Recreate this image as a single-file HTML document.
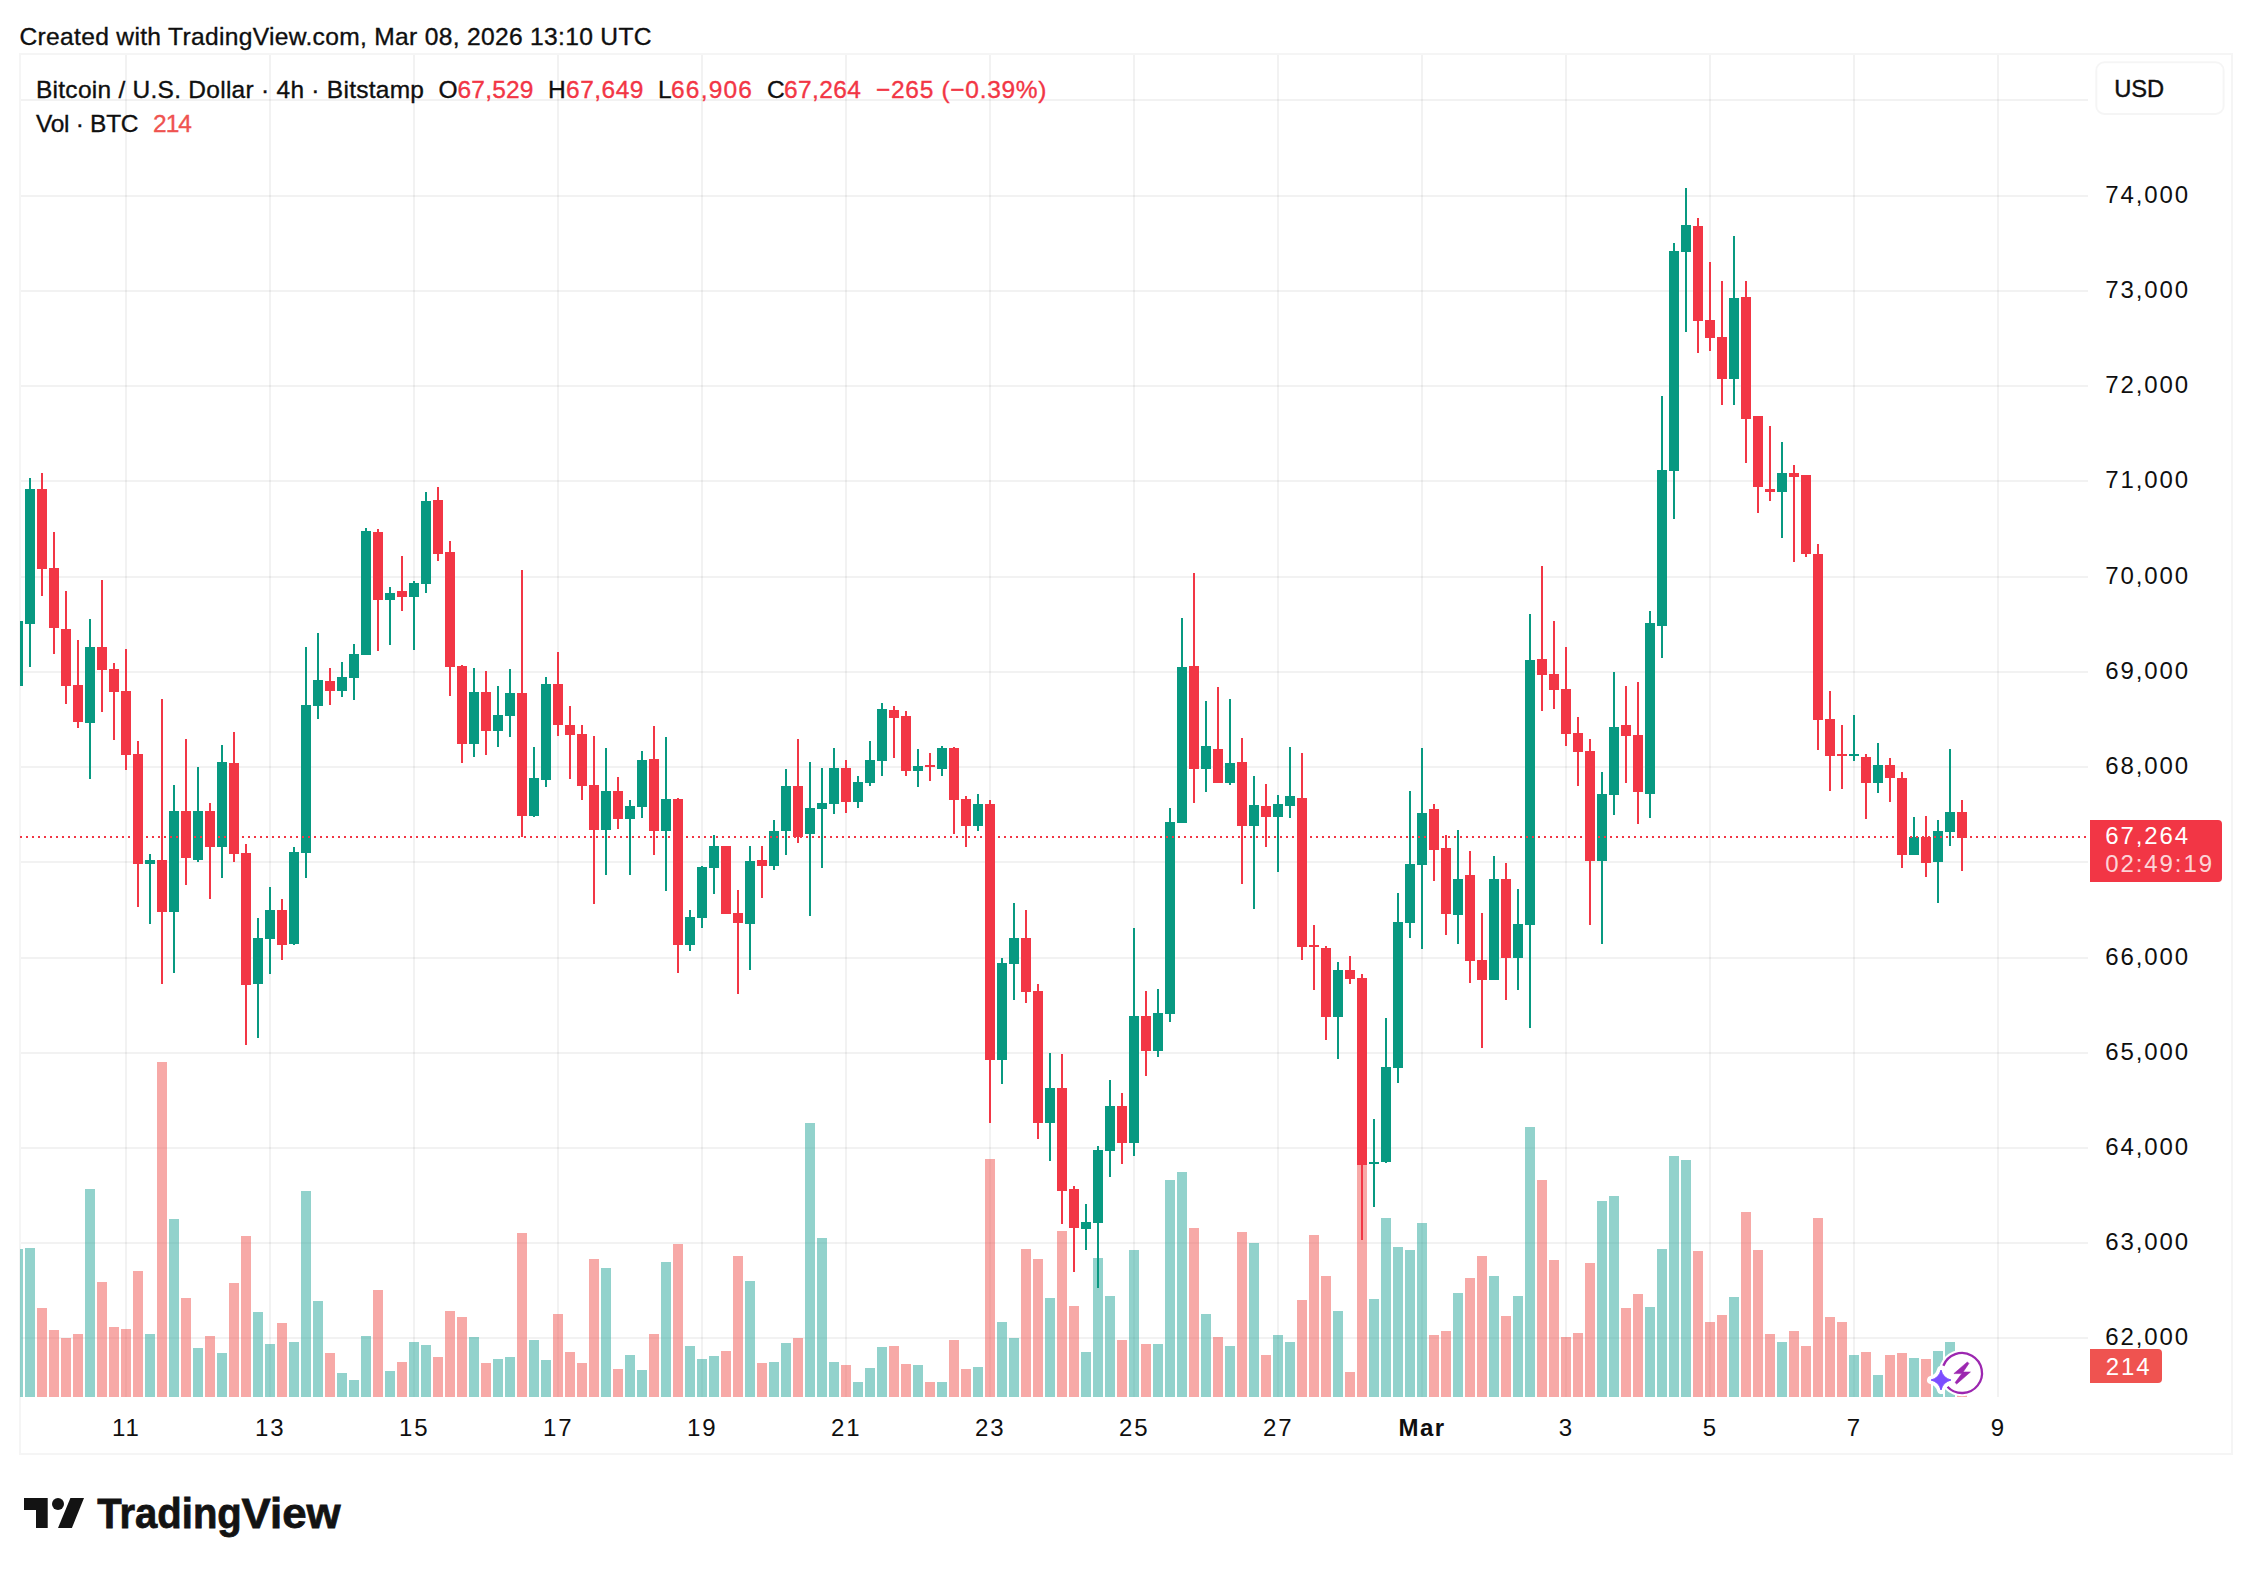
<!DOCTYPE html><html><head><meta charset="utf-8"><title>BTCUSD chart</title>
<style>html,body{margin:0;padding:0;background:#fff}svg{display:block}text{font-family:"Liberation Sans", Arial, sans-serif}</style></head><body>
<svg width="2252" height="1574" viewBox="0 0 2252 1574">
<rect width="2252" height="1574" fill="#fff"/>
<g fill="rgba(0,0,0,0.05)">
<rect x="125" y="55" width="2" height="1342"/>
<rect x="269" y="55" width="2" height="1342"/>
<rect x="413" y="55" width="2" height="1342"/>
<rect x="557" y="55" width="2" height="1342"/>
<rect x="701" y="55" width="2" height="1342"/>
<rect x="845" y="55" width="2" height="1342"/>
<rect x="989" y="55" width="2" height="1342"/>
<rect x="1133" y="55" width="2" height="1342"/>
<rect x="1277" y="55" width="2" height="1342"/>
<rect x="1421" y="55" width="2" height="1342"/>
<rect x="1565" y="55" width="2" height="1342"/>
<rect x="1709" y="55" width="2" height="1342"/>
<rect x="1853" y="55" width="2" height="1342"/>
<rect x="1997" y="55" width="2" height="1342"/>
<rect x="21" y="99" width="2067" height="2"/>
<rect x="21" y="195" width="2067" height="2"/>
<rect x="21" y="290" width="2067" height="2"/>
<rect x="21" y="385" width="2067" height="2"/>
<rect x="21" y="480" width="2067" height="2"/>
<rect x="21" y="576" width="2067" height="2"/>
<rect x="21" y="671" width="2067" height="2"/>
<rect x="21" y="766" width="2067" height="2"/>
<rect x="21" y="861" width="2067" height="2"/>
<rect x="21" y="957" width="2067" height="2"/>
<rect x="21" y="1052" width="2067" height="2"/>
<rect x="21" y="1147" width="2067" height="2"/>
<rect x="21" y="1242" width="2067" height="2"/>
<rect x="21" y="1337" width="2067" height="2"/>
</g>
<rect x="20" y="54" width="2212" height="1400" fill="none" stroke="rgba(0,0,0,0.04)" stroke-width="2"/>
<clipPath id="cp"><rect x="20" y="55" width="2068" height="1342"/></clipPath>
<g clip-path="url(#cp)" shape-rendering="crispEdges">
<rect x="13" y="1249" width="10" height="148" fill="rgba(38,166,154,0.5)"/>
<rect x="25" y="1248" width="10" height="149" fill="rgba(38,166,154,0.5)"/>
<rect x="37" y="1308" width="10" height="89" fill="rgba(239,83,80,0.5)"/>
<rect x="49" y="1330" width="10" height="67" fill="rgba(239,83,80,0.5)"/>
<rect x="61" y="1338" width="10" height="59" fill="rgba(239,83,80,0.5)"/>
<rect x="73" y="1334" width="10" height="63" fill="rgba(239,83,80,0.5)"/>
<rect x="85" y="1189" width="10" height="208" fill="rgba(38,166,154,0.5)"/>
<rect x="97" y="1282" width="10" height="115" fill="rgba(239,83,80,0.5)"/>
<rect x="109" y="1327" width="10" height="70" fill="rgba(239,83,80,0.5)"/>
<rect x="121" y="1329" width="10" height="68" fill="rgba(239,83,80,0.5)"/>
<rect x="133" y="1271" width="10" height="126" fill="rgba(239,83,80,0.5)"/>
<rect x="145" y="1334" width="10" height="63" fill="rgba(38,166,154,0.5)"/>
<rect x="157" y="1062" width="10" height="335" fill="rgba(239,83,80,0.5)"/>
<rect x="169" y="1219" width="10" height="178" fill="rgba(38,166,154,0.5)"/>
<rect x="181" y="1298" width="10" height="99" fill="rgba(239,83,80,0.5)"/>
<rect x="193" y="1348" width="10" height="49" fill="rgba(38,166,154,0.5)"/>
<rect x="205" y="1336" width="10" height="61" fill="rgba(239,83,80,0.5)"/>
<rect x="217" y="1353" width="10" height="44" fill="rgba(38,166,154,0.5)"/>
<rect x="229" y="1283" width="10" height="114" fill="rgba(239,83,80,0.5)"/>
<rect x="241" y="1236" width="10" height="161" fill="rgba(239,83,80,0.5)"/>
<rect x="253" y="1312" width="10" height="85" fill="rgba(38,166,154,0.5)"/>
<rect x="265" y="1344" width="10" height="53" fill="rgba(38,166,154,0.5)"/>
<rect x="277" y="1323" width="10" height="74" fill="rgba(239,83,80,0.5)"/>
<rect x="289" y="1342" width="10" height="55" fill="rgba(38,166,154,0.5)"/>
<rect x="301" y="1191" width="10" height="206" fill="rgba(38,166,154,0.5)"/>
<rect x="313" y="1301" width="10" height="96" fill="rgba(38,166,154,0.5)"/>
<rect x="325" y="1353" width="10" height="44" fill="rgba(239,83,80,0.5)"/>
<rect x="337" y="1373" width="10" height="24" fill="rgba(38,166,154,0.5)"/>
<rect x="349" y="1380" width="10" height="17" fill="rgba(38,166,154,0.5)"/>
<rect x="361" y="1336" width="10" height="61" fill="rgba(38,166,154,0.5)"/>
<rect x="373" y="1290" width="10" height="107" fill="rgba(239,83,80,0.5)"/>
<rect x="385" y="1371" width="10" height="26" fill="rgba(38,166,154,0.5)"/>
<rect x="397" y="1362" width="10" height="35" fill="rgba(239,83,80,0.5)"/>
<rect x="409" y="1342" width="10" height="55" fill="rgba(38,166,154,0.5)"/>
<rect x="421" y="1345" width="10" height="52" fill="rgba(38,166,154,0.5)"/>
<rect x="433" y="1357" width="10" height="40" fill="rgba(239,83,80,0.5)"/>
<rect x="445" y="1311" width="10" height="86" fill="rgba(239,83,80,0.5)"/>
<rect x="457" y="1317" width="10" height="80" fill="rgba(239,83,80,0.5)"/>
<rect x="469" y="1337" width="10" height="60" fill="rgba(38,166,154,0.5)"/>
<rect x="481" y="1363" width="10" height="34" fill="rgba(239,83,80,0.5)"/>
<rect x="493" y="1359" width="10" height="38" fill="rgba(38,166,154,0.5)"/>
<rect x="505" y="1357" width="10" height="40" fill="rgba(38,166,154,0.5)"/>
<rect x="517" y="1233" width="10" height="164" fill="rgba(239,83,80,0.5)"/>
<rect x="529" y="1340" width="10" height="57" fill="rgba(38,166,154,0.5)"/>
<rect x="541" y="1360" width="10" height="37" fill="rgba(38,166,154,0.5)"/>
<rect x="553" y="1314" width="10" height="83" fill="rgba(239,83,80,0.5)"/>
<rect x="565" y="1352" width="10" height="45" fill="rgba(239,83,80,0.5)"/>
<rect x="577" y="1363" width="10" height="34" fill="rgba(239,83,80,0.5)"/>
<rect x="589" y="1259" width="10" height="138" fill="rgba(239,83,80,0.5)"/>
<rect x="601" y="1268" width="10" height="129" fill="rgba(38,166,154,0.5)"/>
<rect x="613" y="1369" width="10" height="28" fill="rgba(239,83,80,0.5)"/>
<rect x="625" y="1355" width="10" height="42" fill="rgba(38,166,154,0.5)"/>
<rect x="637" y="1370" width="10" height="27" fill="rgba(38,166,154,0.5)"/>
<rect x="649" y="1334" width="10" height="63" fill="rgba(239,83,80,0.5)"/>
<rect x="661" y="1262" width="10" height="135" fill="rgba(38,166,154,0.5)"/>
<rect x="673" y="1244" width="10" height="153" fill="rgba(239,83,80,0.5)"/>
<rect x="685" y="1346" width="10" height="51" fill="rgba(38,166,154,0.5)"/>
<rect x="697" y="1359" width="10" height="38" fill="rgba(38,166,154,0.5)"/>
<rect x="709" y="1356" width="10" height="41" fill="rgba(38,166,154,0.5)"/>
<rect x="721" y="1351" width="10" height="46" fill="rgba(239,83,80,0.5)"/>
<rect x="733" y="1256" width="10" height="141" fill="rgba(239,83,80,0.5)"/>
<rect x="745" y="1281" width="10" height="116" fill="rgba(38,166,154,0.5)"/>
<rect x="757" y="1363" width="10" height="34" fill="rgba(239,83,80,0.5)"/>
<rect x="769" y="1362" width="10" height="35" fill="rgba(38,166,154,0.5)"/>
<rect x="781" y="1343" width="10" height="54" fill="rgba(38,166,154,0.5)"/>
<rect x="793" y="1338" width="10" height="59" fill="rgba(239,83,80,0.5)"/>
<rect x="805" y="1123" width="10" height="274" fill="rgba(38,166,154,0.5)"/>
<rect x="817" y="1238" width="10" height="159" fill="rgba(38,166,154,0.5)"/>
<rect x="829" y="1362" width="10" height="35" fill="rgba(38,166,154,0.5)"/>
<rect x="841" y="1365" width="10" height="32" fill="rgba(239,83,80,0.5)"/>
<rect x="853" y="1382" width="10" height="15" fill="rgba(38,166,154,0.5)"/>
<rect x="865" y="1368" width="10" height="29" fill="rgba(38,166,154,0.5)"/>
<rect x="877" y="1347" width="10" height="50" fill="rgba(38,166,154,0.5)"/>
<rect x="889" y="1346" width="10" height="51" fill="rgba(239,83,80,0.5)"/>
<rect x="901" y="1364" width="10" height="33" fill="rgba(239,83,80,0.5)"/>
<rect x="913" y="1365" width="10" height="32" fill="rgba(38,166,154,0.5)"/>
<rect x="925" y="1382" width="10" height="15" fill="rgba(239,83,80,0.5)"/>
<rect x="937" y="1382" width="10" height="15" fill="rgba(38,166,154,0.5)"/>
<rect x="949" y="1340" width="10" height="57" fill="rgba(239,83,80,0.5)"/>
<rect x="961" y="1369" width="10" height="28" fill="rgba(239,83,80,0.5)"/>
<rect x="973" y="1367" width="10" height="30" fill="rgba(38,166,154,0.5)"/>
<rect x="985" y="1159" width="10" height="238" fill="rgba(239,83,80,0.5)"/>
<rect x="997" y="1322" width="10" height="75" fill="rgba(38,166,154,0.5)"/>
<rect x="1009" y="1338" width="10" height="59" fill="rgba(38,166,154,0.5)"/>
<rect x="1021" y="1249" width="10" height="148" fill="rgba(239,83,80,0.5)"/>
<rect x="1033" y="1259" width="10" height="138" fill="rgba(239,83,80,0.5)"/>
<rect x="1045" y="1298" width="10" height="99" fill="rgba(38,166,154,0.5)"/>
<rect x="1057" y="1231" width="10" height="166" fill="rgba(239,83,80,0.5)"/>
<rect x="1069" y="1306" width="10" height="91" fill="rgba(239,83,80,0.5)"/>
<rect x="1081" y="1352" width="10" height="45" fill="rgba(38,166,154,0.5)"/>
<rect x="1093" y="1258" width="10" height="139" fill="rgba(38,166,154,0.5)"/>
<rect x="1105" y="1296" width="10" height="101" fill="rgba(38,166,154,0.5)"/>
<rect x="1117" y="1340" width="10" height="57" fill="rgba(239,83,80,0.5)"/>
<rect x="1129" y="1250" width="10" height="147" fill="rgba(38,166,154,0.5)"/>
<rect x="1141" y="1344" width="10" height="53" fill="rgba(239,83,80,0.5)"/>
<rect x="1153" y="1344" width="10" height="53" fill="rgba(38,166,154,0.5)"/>
<rect x="1165" y="1180" width="10" height="217" fill="rgba(38,166,154,0.5)"/>
<rect x="1177" y="1172" width="10" height="225" fill="rgba(38,166,154,0.5)"/>
<rect x="1189" y="1228" width="10" height="169" fill="rgba(239,83,80,0.5)"/>
<rect x="1201" y="1314" width="10" height="83" fill="rgba(38,166,154,0.5)"/>
<rect x="1213" y="1337" width="10" height="60" fill="rgba(239,83,80,0.5)"/>
<rect x="1225" y="1346" width="10" height="51" fill="rgba(38,166,154,0.5)"/>
<rect x="1237" y="1232" width="10" height="165" fill="rgba(239,83,80,0.5)"/>
<rect x="1249" y="1243" width="10" height="154" fill="rgba(38,166,154,0.5)"/>
<rect x="1261" y="1355" width="10" height="42" fill="rgba(239,83,80,0.5)"/>
<rect x="1273" y="1335" width="10" height="62" fill="rgba(38,166,154,0.5)"/>
<rect x="1285" y="1342" width="10" height="55" fill="rgba(38,166,154,0.5)"/>
<rect x="1297" y="1300" width="10" height="97" fill="rgba(239,83,80,0.5)"/>
<rect x="1309" y="1235" width="10" height="162" fill="rgba(239,83,80,0.5)"/>
<rect x="1321" y="1276" width="10" height="121" fill="rgba(239,83,80,0.5)"/>
<rect x="1333" y="1311" width="10" height="86" fill="rgba(38,166,154,0.5)"/>
<rect x="1345" y="1372" width="10" height="25" fill="rgba(239,83,80,0.5)"/>
<rect x="1357" y="1150" width="10" height="247" fill="rgba(239,83,80,0.5)"/>
<rect x="1369" y="1299" width="10" height="98" fill="rgba(38,166,154,0.5)"/>
<rect x="1381" y="1218" width="10" height="179" fill="rgba(38,166,154,0.5)"/>
<rect x="1393" y="1247" width="10" height="150" fill="rgba(38,166,154,0.5)"/>
<rect x="1405" y="1250" width="10" height="147" fill="rgba(38,166,154,0.5)"/>
<rect x="1417" y="1223" width="10" height="174" fill="rgba(38,166,154,0.5)"/>
<rect x="1429" y="1335" width="10" height="62" fill="rgba(239,83,80,0.5)"/>
<rect x="1441" y="1331" width="10" height="66" fill="rgba(239,83,80,0.5)"/>
<rect x="1453" y="1293" width="10" height="104" fill="rgba(38,166,154,0.5)"/>
<rect x="1465" y="1278" width="10" height="119" fill="rgba(239,83,80,0.5)"/>
<rect x="1477" y="1256" width="10" height="141" fill="rgba(239,83,80,0.5)"/>
<rect x="1489" y="1276" width="10" height="121" fill="rgba(38,166,154,0.5)"/>
<rect x="1501" y="1316" width="10" height="81" fill="rgba(239,83,80,0.5)"/>
<rect x="1513" y="1296" width="10" height="101" fill="rgba(38,166,154,0.5)"/>
<rect x="1525" y="1127" width="10" height="270" fill="rgba(38,166,154,0.5)"/>
<rect x="1537" y="1180" width="10" height="217" fill="rgba(239,83,80,0.5)"/>
<rect x="1549" y="1260" width="10" height="137" fill="rgba(239,83,80,0.5)"/>
<rect x="1561" y="1337" width="10" height="60" fill="rgba(239,83,80,0.5)"/>
<rect x="1573" y="1333" width="10" height="64" fill="rgba(239,83,80,0.5)"/>
<rect x="1585" y="1263" width="10" height="134" fill="rgba(239,83,80,0.5)"/>
<rect x="1597" y="1201" width="10" height="196" fill="rgba(38,166,154,0.5)"/>
<rect x="1609" y="1196" width="10" height="201" fill="rgba(38,166,154,0.5)"/>
<rect x="1621" y="1308" width="10" height="89" fill="rgba(239,83,80,0.5)"/>
<rect x="1633" y="1294" width="10" height="103" fill="rgba(239,83,80,0.5)"/>
<rect x="1645" y="1307" width="10" height="90" fill="rgba(38,166,154,0.5)"/>
<rect x="1657" y="1249" width="10" height="148" fill="rgba(38,166,154,0.5)"/>
<rect x="1669" y="1156" width="10" height="241" fill="rgba(38,166,154,0.5)"/>
<rect x="1681" y="1160" width="10" height="237" fill="rgba(38,166,154,0.5)"/>
<rect x="1693" y="1251" width="10" height="146" fill="rgba(239,83,80,0.5)"/>
<rect x="1705" y="1322" width="10" height="75" fill="rgba(239,83,80,0.5)"/>
<rect x="1717" y="1315" width="10" height="82" fill="rgba(239,83,80,0.5)"/>
<rect x="1729" y="1297" width="10" height="100" fill="rgba(38,166,154,0.5)"/>
<rect x="1741" y="1212" width="10" height="185" fill="rgba(239,83,80,0.5)"/>
<rect x="1753" y="1250" width="10" height="147" fill="rgba(239,83,80,0.5)"/>
<rect x="1765" y="1334" width="10" height="63" fill="rgba(239,83,80,0.5)"/>
<rect x="1777" y="1342" width="10" height="55" fill="rgba(38,166,154,0.5)"/>
<rect x="1789" y="1331" width="10" height="66" fill="rgba(239,83,80,0.5)"/>
<rect x="1801" y="1346" width="10" height="51" fill="rgba(239,83,80,0.5)"/>
<rect x="1813" y="1218" width="10" height="179" fill="rgba(239,83,80,0.5)"/>
<rect x="1825" y="1317" width="10" height="80" fill="rgba(239,83,80,0.5)"/>
<rect x="1837" y="1322" width="10" height="75" fill="rgba(239,83,80,0.5)"/>
<rect x="1849" y="1355" width="10" height="42" fill="rgba(38,166,154,0.5)"/>
<rect x="1861" y="1352" width="10" height="45" fill="rgba(239,83,80,0.5)"/>
<rect x="1873" y="1375" width="10" height="22" fill="rgba(38,166,154,0.5)"/>
<rect x="1885" y="1355" width="10" height="42" fill="rgba(239,83,80,0.5)"/>
<rect x="1897" y="1353" width="10" height="44" fill="rgba(239,83,80,0.5)"/>
<rect x="1909" y="1358" width="10" height="39" fill="rgba(38,166,154,0.5)"/>
<rect x="1921" y="1359" width="10" height="38" fill="rgba(239,83,80,0.5)"/>
<rect x="1933" y="1351" width="10" height="46" fill="rgba(38,166,154,0.5)"/>
<rect x="1945" y="1342" width="10" height="55" fill="rgba(38,166,154,0.5)"/>
<rect x="1957" y="1366" width="10" height="31" fill="rgba(239,83,80,0.5)"/>
<rect x="13" y="621" width="10" height="65" fill="#089981"/>
<rect x="29" y="478" width="2" height="189" fill="#089981"/>
<rect x="25" y="489" width="10" height="135" fill="#089981"/>
<rect x="41" y="473" width="2" height="123" fill="#F23645"/>
<rect x="37" y="489" width="10" height="80" fill="#F23645"/>
<rect x="53" y="532" width="2" height="122" fill="#F23645"/>
<rect x="49" y="568" width="10" height="60" fill="#F23645"/>
<rect x="65" y="591" width="2" height="113" fill="#F23645"/>
<rect x="61" y="629" width="10" height="57" fill="#F23645"/>
<rect x="77" y="640" width="2" height="88" fill="#F23645"/>
<rect x="73" y="685" width="10" height="37" fill="#F23645"/>
<rect x="89" y="619" width="2" height="160" fill="#089981"/>
<rect x="85" y="647" width="10" height="76" fill="#089981"/>
<rect x="101" y="580" width="2" height="132" fill="#F23645"/>
<rect x="97" y="647" width="10" height="23" fill="#F23645"/>
<rect x="113" y="663" width="2" height="77" fill="#F23645"/>
<rect x="109" y="669" width="10" height="23" fill="#F23645"/>
<rect x="125" y="649" width="2" height="121" fill="#F23645"/>
<rect x="121" y="691" width="10" height="64" fill="#F23645"/>
<rect x="137" y="741" width="2" height="166" fill="#F23645"/>
<rect x="133" y="754" width="10" height="110" fill="#F23645"/>
<rect x="149" y="854" width="2" height="70" fill="#089981"/>
<rect x="145" y="860" width="10" height="4" fill="#089981"/>
<rect x="161" y="699" width="2" height="285" fill="#F23645"/>
<rect x="157" y="860" width="10" height="52" fill="#F23645"/>
<rect x="173" y="785" width="2" height="188" fill="#089981"/>
<rect x="169" y="811" width="10" height="101" fill="#089981"/>
<rect x="185" y="739" width="2" height="146" fill="#F23645"/>
<rect x="181" y="811" width="10" height="47" fill="#F23645"/>
<rect x="197" y="767" width="2" height="95" fill="#089981"/>
<rect x="193" y="811" width="10" height="49" fill="#089981"/>
<rect x="209" y="803" width="2" height="96" fill="#F23645"/>
<rect x="205" y="811" width="10" height="36" fill="#F23645"/>
<rect x="221" y="745" width="2" height="133" fill="#089981"/>
<rect x="217" y="762" width="10" height="85" fill="#089981"/>
<rect x="233" y="732" width="2" height="130" fill="#F23645"/>
<rect x="229" y="763" width="10" height="91" fill="#F23645"/>
<rect x="245" y="844" width="2" height="201" fill="#F23645"/>
<rect x="241" y="853" width="10" height="132" fill="#F23645"/>
<rect x="257" y="918" width="2" height="120" fill="#089981"/>
<rect x="253" y="938" width="10" height="46" fill="#089981"/>
<rect x="269" y="887" width="2" height="87" fill="#089981"/>
<rect x="265" y="910" width="10" height="29" fill="#089981"/>
<rect x="281" y="899" width="2" height="61" fill="#F23645"/>
<rect x="277" y="910" width="10" height="35" fill="#F23645"/>
<rect x="293" y="847" width="2" height="98" fill="#089981"/>
<rect x="289" y="852" width="10" height="92" fill="#089981"/>
<rect x="305" y="647" width="2" height="231" fill="#089981"/>
<rect x="301" y="705" width="10" height="148" fill="#089981"/>
<rect x="317" y="633" width="2" height="86" fill="#089981"/>
<rect x="313" y="680" width="10" height="26" fill="#089981"/>
<rect x="329" y="668" width="2" height="37" fill="#F23645"/>
<rect x="325" y="681" width="10" height="10" fill="#F23645"/>
<rect x="341" y="662" width="2" height="35" fill="#089981"/>
<rect x="337" y="677" width="10" height="14" fill="#089981"/>
<rect x="353" y="644" width="2" height="56" fill="#089981"/>
<rect x="349" y="654" width="10" height="24" fill="#089981"/>
<rect x="365" y="528" width="2" height="127" fill="#089981"/>
<rect x="361" y="531" width="10" height="124" fill="#089981"/>
<rect x="377" y="529" width="2" height="122" fill="#F23645"/>
<rect x="373" y="532" width="10" height="68" fill="#F23645"/>
<rect x="389" y="587" width="2" height="58" fill="#089981"/>
<rect x="385" y="593" width="10" height="7" fill="#089981"/>
<rect x="401" y="556" width="2" height="55" fill="#F23645"/>
<rect x="397" y="591" width="10" height="6" fill="#F23645"/>
<rect x="413" y="581" width="2" height="69" fill="#089981"/>
<rect x="409" y="583" width="10" height="14" fill="#089981"/>
<rect x="425" y="492" width="2" height="101" fill="#089981"/>
<rect x="421" y="501" width="10" height="83" fill="#089981"/>
<rect x="437" y="487" width="2" height="74" fill="#F23645"/>
<rect x="433" y="500" width="10" height="54" fill="#F23645"/>
<rect x="449" y="541" width="2" height="155" fill="#F23645"/>
<rect x="445" y="552" width="10" height="115" fill="#F23645"/>
<rect x="461" y="665" width="2" height="98" fill="#F23645"/>
<rect x="457" y="666" width="10" height="78" fill="#F23645"/>
<rect x="473" y="668" width="2" height="89" fill="#089981"/>
<rect x="469" y="692" width="10" height="52" fill="#089981"/>
<rect x="485" y="671" width="2" height="84" fill="#F23645"/>
<rect x="481" y="692" width="10" height="39" fill="#F23645"/>
<rect x="497" y="686" width="2" height="61" fill="#089981"/>
<rect x="493" y="715" width="10" height="16" fill="#089981"/>
<rect x="509" y="669" width="2" height="68" fill="#089981"/>
<rect x="505" y="693" width="10" height="23" fill="#089981"/>
<rect x="521" y="570" width="2" height="267" fill="#F23645"/>
<rect x="517" y="693" width="10" height="123" fill="#F23645"/>
<rect x="533" y="747" width="2" height="70" fill="#089981"/>
<rect x="529" y="778" width="10" height="38" fill="#089981"/>
<rect x="545" y="677" width="2" height="110" fill="#089981"/>
<rect x="541" y="684" width="10" height="96" fill="#089981"/>
<rect x="557" y="652" width="2" height="84" fill="#F23645"/>
<rect x="553" y="684" width="10" height="41" fill="#F23645"/>
<rect x="569" y="706" width="2" height="73" fill="#F23645"/>
<rect x="565" y="725" width="10" height="10" fill="#F23645"/>
<rect x="581" y="725" width="2" height="75" fill="#F23645"/>
<rect x="577" y="734" width="10" height="52" fill="#F23645"/>
<rect x="593" y="736" width="2" height="168" fill="#F23645"/>
<rect x="589" y="785" width="10" height="45" fill="#F23645"/>
<rect x="605" y="748" width="2" height="127" fill="#089981"/>
<rect x="601" y="791" width="10" height="39" fill="#089981"/>
<rect x="617" y="777" width="2" height="52" fill="#F23645"/>
<rect x="613" y="791" width="10" height="28" fill="#F23645"/>
<rect x="629" y="800" width="2" height="75" fill="#089981"/>
<rect x="625" y="806" width="10" height="13" fill="#089981"/>
<rect x="641" y="751" width="2" height="67" fill="#089981"/>
<rect x="637" y="760" width="10" height="47" fill="#089981"/>
<rect x="653" y="726" width="2" height="129" fill="#F23645"/>
<rect x="649" y="759" width="10" height="72" fill="#F23645"/>
<rect x="665" y="737" width="2" height="154" fill="#089981"/>
<rect x="661" y="799" width="10" height="32" fill="#089981"/>
<rect x="677" y="798" width="2" height="175" fill="#F23645"/>
<rect x="673" y="799" width="10" height="146" fill="#F23645"/>
<rect x="689" y="910" width="2" height="41" fill="#089981"/>
<rect x="685" y="917" width="10" height="28" fill="#089981"/>
<rect x="701" y="866" width="2" height="62" fill="#089981"/>
<rect x="697" y="867" width="10" height="51" fill="#089981"/>
<rect x="713" y="835" width="2" height="59" fill="#089981"/>
<rect x="709" y="846" width="10" height="22" fill="#089981"/>
<rect x="725" y="846" width="2" height="68" fill="#F23645"/>
<rect x="721" y="846" width="10" height="68" fill="#F23645"/>
<rect x="737" y="890" width="2" height="104" fill="#F23645"/>
<rect x="733" y="913" width="10" height="10" fill="#F23645"/>
<rect x="749" y="846" width="2" height="124" fill="#089981"/>
<rect x="745" y="861" width="10" height="63" fill="#089981"/>
<rect x="761" y="846" width="2" height="52" fill="#F23645"/>
<rect x="757" y="860" width="10" height="6" fill="#F23645"/>
<rect x="773" y="820" width="2" height="50" fill="#089981"/>
<rect x="769" y="831" width="10" height="35" fill="#089981"/>
<rect x="785" y="769" width="2" height="86" fill="#089981"/>
<rect x="781" y="786" width="10" height="45" fill="#089981"/>
<rect x="797" y="739" width="2" height="104" fill="#F23645"/>
<rect x="793" y="786" width="10" height="51" fill="#F23645"/>
<rect x="809" y="762" width="2" height="154" fill="#089981"/>
<rect x="805" y="808" width="10" height="26" fill="#089981"/>
<rect x="821" y="768" width="2" height="100" fill="#089981"/>
<rect x="817" y="803" width="10" height="6" fill="#089981"/>
<rect x="833" y="748" width="2" height="66" fill="#089981"/>
<rect x="829" y="768" width="10" height="36" fill="#089981"/>
<rect x="845" y="760" width="2" height="53" fill="#F23645"/>
<rect x="841" y="768" width="10" height="34" fill="#F23645"/>
<rect x="857" y="776" width="2" height="32" fill="#089981"/>
<rect x="853" y="782" width="10" height="20" fill="#089981"/>
<rect x="869" y="741" width="2" height="45" fill="#089981"/>
<rect x="865" y="760" width="10" height="23" fill="#089981"/>
<rect x="881" y="703" width="2" height="73" fill="#089981"/>
<rect x="877" y="709" width="10" height="52" fill="#089981"/>
<rect x="893" y="706" width="2" height="52" fill="#F23645"/>
<rect x="889" y="710" width="10" height="8" fill="#F23645"/>
<rect x="905" y="711" width="2" height="65" fill="#F23645"/>
<rect x="901" y="716" width="10" height="55" fill="#F23645"/>
<rect x="917" y="749" width="2" height="38" fill="#089981"/>
<rect x="913" y="766" width="10" height="5" fill="#089981"/>
<rect x="929" y="753" width="2" height="28" fill="#F23645"/>
<rect x="925" y="765" width="10" height="2" fill="#F23645"/>
<rect x="941" y="746" width="2" height="30" fill="#089981"/>
<rect x="937" y="748" width="10" height="21" fill="#089981"/>
<rect x="953" y="747" width="2" height="87" fill="#F23645"/>
<rect x="949" y="748" width="10" height="52" fill="#F23645"/>
<rect x="965" y="796" width="2" height="51" fill="#F23645"/>
<rect x="961" y="799" width="10" height="27" fill="#F23645"/>
<rect x="977" y="794" width="2" height="37" fill="#089981"/>
<rect x="973" y="804" width="10" height="22" fill="#089981"/>
<rect x="989" y="800" width="2" height="323" fill="#F23645"/>
<rect x="985" y="804" width="10" height="256" fill="#F23645"/>
<rect x="1001" y="958" width="2" height="126" fill="#089981"/>
<rect x="997" y="963" width="10" height="97" fill="#089981"/>
<rect x="1013" y="903" width="2" height="97" fill="#089981"/>
<rect x="1009" y="938" width="10" height="26" fill="#089981"/>
<rect x="1025" y="910" width="2" height="93" fill="#F23645"/>
<rect x="1021" y="938" width="10" height="54" fill="#F23645"/>
<rect x="1037" y="984" width="2" height="155" fill="#F23645"/>
<rect x="1033" y="991" width="10" height="132" fill="#F23645"/>
<rect x="1049" y="1053" width="2" height="108" fill="#089981"/>
<rect x="1045" y="1088" width="10" height="35" fill="#089981"/>
<rect x="1061" y="1054" width="2" height="170" fill="#F23645"/>
<rect x="1057" y="1088" width="10" height="103" fill="#F23645"/>
<rect x="1073" y="1186" width="2" height="86" fill="#F23645"/>
<rect x="1069" y="1189" width="10" height="39" fill="#F23645"/>
<rect x="1085" y="1204" width="2" height="46" fill="#089981"/>
<rect x="1081" y="1222" width="10" height="7" fill="#089981"/>
<rect x="1097" y="1146" width="2" height="142" fill="#089981"/>
<rect x="1093" y="1150" width="10" height="73" fill="#089981"/>
<rect x="1109" y="1080" width="2" height="97" fill="#089981"/>
<rect x="1105" y="1106" width="10" height="45" fill="#089981"/>
<rect x="1121" y="1093" width="2" height="71" fill="#F23645"/>
<rect x="1117" y="1106" width="10" height="37" fill="#F23645"/>
<rect x="1133" y="928" width="2" height="228" fill="#089981"/>
<rect x="1129" y="1016" width="10" height="127" fill="#089981"/>
<rect x="1145" y="991" width="2" height="85" fill="#F23645"/>
<rect x="1141" y="1016" width="10" height="35" fill="#F23645"/>
<rect x="1157" y="989" width="2" height="68" fill="#089981"/>
<rect x="1153" y="1013" width="10" height="38" fill="#089981"/>
<rect x="1169" y="808" width="2" height="214" fill="#089981"/>
<rect x="1165" y="822" width="10" height="192" fill="#089981"/>
<rect x="1181" y="618" width="2" height="205" fill="#089981"/>
<rect x="1177" y="667" width="10" height="156" fill="#089981"/>
<rect x="1193" y="573" width="2" height="230" fill="#F23645"/>
<rect x="1189" y="666" width="10" height="103" fill="#F23645"/>
<rect x="1205" y="701" width="2" height="91" fill="#089981"/>
<rect x="1201" y="746" width="10" height="23" fill="#089981"/>
<rect x="1217" y="687" width="2" height="96" fill="#F23645"/>
<rect x="1213" y="749" width="10" height="34" fill="#F23645"/>
<rect x="1229" y="699" width="2" height="86" fill="#089981"/>
<rect x="1225" y="763" width="10" height="20" fill="#089981"/>
<rect x="1241" y="738" width="2" height="146" fill="#F23645"/>
<rect x="1237" y="762" width="10" height="64" fill="#F23645"/>
<rect x="1253" y="776" width="2" height="133" fill="#089981"/>
<rect x="1249" y="805" width="10" height="21" fill="#089981"/>
<rect x="1265" y="784" width="2" height="63" fill="#F23645"/>
<rect x="1261" y="806" width="10" height="11" fill="#F23645"/>
<rect x="1277" y="795" width="2" height="77" fill="#089981"/>
<rect x="1273" y="804" width="10" height="13" fill="#089981"/>
<rect x="1289" y="747" width="2" height="71" fill="#089981"/>
<rect x="1285" y="796" width="10" height="10" fill="#089981"/>
<rect x="1301" y="753" width="2" height="207" fill="#F23645"/>
<rect x="1297" y="798" width="10" height="149" fill="#F23645"/>
<rect x="1313" y="925" width="2" height="65" fill="#F23645"/>
<rect x="1309" y="945" width="10" height="2" fill="#F23645"/>
<rect x="1325" y="946" width="2" height="94" fill="#F23645"/>
<rect x="1321" y="948" width="10" height="69" fill="#F23645"/>
<rect x="1337" y="962" width="2" height="97" fill="#089981"/>
<rect x="1333" y="970" width="10" height="47" fill="#089981"/>
<rect x="1349" y="956" width="2" height="28" fill="#F23645"/>
<rect x="1345" y="970" width="10" height="9" fill="#F23645"/>
<rect x="1361" y="974" width="2" height="266" fill="#F23645"/>
<rect x="1357" y="978" width="10" height="187" fill="#F23645"/>
<rect x="1373" y="1119" width="2" height="88" fill="#089981"/>
<rect x="1369" y="1162" width="10" height="2" fill="#089981"/>
<rect x="1385" y="1018" width="2" height="145" fill="#089981"/>
<rect x="1381" y="1067" width="10" height="95" fill="#089981"/>
<rect x="1397" y="893" width="2" height="190" fill="#089981"/>
<rect x="1393" y="922" width="10" height="146" fill="#089981"/>
<rect x="1409" y="791" width="2" height="147" fill="#089981"/>
<rect x="1405" y="864" width="10" height="59" fill="#089981"/>
<rect x="1421" y="748" width="2" height="201" fill="#089981"/>
<rect x="1417" y="813" width="10" height="52" fill="#089981"/>
<rect x="1433" y="804" width="2" height="77" fill="#F23645"/>
<rect x="1429" y="809" width="10" height="41" fill="#F23645"/>
<rect x="1445" y="835" width="2" height="100" fill="#F23645"/>
<rect x="1441" y="848" width="10" height="66" fill="#F23645"/>
<rect x="1457" y="830" width="2" height="114" fill="#089981"/>
<rect x="1453" y="879" width="10" height="36" fill="#089981"/>
<rect x="1469" y="851" width="2" height="132" fill="#F23645"/>
<rect x="1465" y="875" width="10" height="86" fill="#F23645"/>
<rect x="1481" y="913" width="2" height="135" fill="#F23645"/>
<rect x="1477" y="960" width="10" height="20" fill="#F23645"/>
<rect x="1493" y="856" width="2" height="124" fill="#089981"/>
<rect x="1489" y="879" width="10" height="101" fill="#089981"/>
<rect x="1505" y="863" width="2" height="137" fill="#F23645"/>
<rect x="1501" y="879" width="10" height="79" fill="#F23645"/>
<rect x="1517" y="889" width="2" height="101" fill="#089981"/>
<rect x="1513" y="924" width="10" height="34" fill="#089981"/>
<rect x="1529" y="614" width="2" height="414" fill="#089981"/>
<rect x="1525" y="660" width="10" height="265" fill="#089981"/>
<rect x="1541" y="566" width="2" height="145" fill="#F23645"/>
<rect x="1537" y="659" width="10" height="16" fill="#F23645"/>
<rect x="1553" y="621" width="2" height="88" fill="#F23645"/>
<rect x="1549" y="674" width="10" height="16" fill="#F23645"/>
<rect x="1565" y="647" width="2" height="99" fill="#F23645"/>
<rect x="1561" y="689" width="10" height="45" fill="#F23645"/>
<rect x="1577" y="717" width="2" height="69" fill="#F23645"/>
<rect x="1573" y="733" width="10" height="19" fill="#F23645"/>
<rect x="1589" y="739" width="2" height="186" fill="#F23645"/>
<rect x="1585" y="751" width="10" height="110" fill="#F23645"/>
<rect x="1601" y="772" width="2" height="172" fill="#089981"/>
<rect x="1597" y="794" width="10" height="67" fill="#089981"/>
<rect x="1613" y="672" width="2" height="143" fill="#089981"/>
<rect x="1609" y="727" width="10" height="68" fill="#089981"/>
<rect x="1625" y="686" width="2" height="97" fill="#F23645"/>
<rect x="1621" y="725" width="10" height="11" fill="#F23645"/>
<rect x="1637" y="682" width="2" height="142" fill="#F23645"/>
<rect x="1633" y="735" width="10" height="57" fill="#F23645"/>
<rect x="1649" y="611" width="2" height="207" fill="#089981"/>
<rect x="1645" y="623" width="10" height="171" fill="#089981"/>
<rect x="1661" y="396" width="2" height="262" fill="#089981"/>
<rect x="1657" y="470" width="10" height="156" fill="#089981"/>
<rect x="1673" y="243" width="2" height="276" fill="#089981"/>
<rect x="1669" y="251" width="10" height="220" fill="#089981"/>
<rect x="1685" y="188" width="2" height="144" fill="#089981"/>
<rect x="1681" y="225" width="10" height="27" fill="#089981"/>
<rect x="1697" y="218" width="2" height="135" fill="#F23645"/>
<rect x="1693" y="226" width="10" height="95" fill="#F23645"/>
<rect x="1709" y="262" width="2" height="89" fill="#F23645"/>
<rect x="1705" y="320" width="10" height="18" fill="#F23645"/>
<rect x="1721" y="281" width="2" height="124" fill="#F23645"/>
<rect x="1717" y="337" width="10" height="42" fill="#F23645"/>
<rect x="1733" y="236" width="2" height="169" fill="#089981"/>
<rect x="1729" y="298" width="10" height="81" fill="#089981"/>
<rect x="1745" y="281" width="2" height="182" fill="#F23645"/>
<rect x="1741" y="297" width="10" height="122" fill="#F23645"/>
<rect x="1757" y="416" width="2" height="97" fill="#F23645"/>
<rect x="1753" y="416" width="10" height="71" fill="#F23645"/>
<rect x="1769" y="426" width="2" height="75" fill="#F23645"/>
<rect x="1765" y="489" width="10" height="3" fill="#F23645"/>
<rect x="1781" y="442" width="2" height="96" fill="#089981"/>
<rect x="1777" y="473" width="10" height="19" fill="#089981"/>
<rect x="1793" y="465" width="2" height="97" fill="#F23645"/>
<rect x="1789" y="473" width="10" height="4" fill="#F23645"/>
<rect x="1805" y="475" width="2" height="82" fill="#F23645"/>
<rect x="1801" y="475" width="10" height="79" fill="#F23645"/>
<rect x="1817" y="544" width="2" height="206" fill="#F23645"/>
<rect x="1813" y="554" width="10" height="166" fill="#F23645"/>
<rect x="1829" y="691" width="2" height="100" fill="#F23645"/>
<rect x="1825" y="719" width="10" height="37" fill="#F23645"/>
<rect x="1841" y="725" width="2" height="64" fill="#F23645"/>
<rect x="1837" y="754" width="10" height="2" fill="#F23645"/>
<rect x="1853" y="715" width="2" height="46" fill="#089981"/>
<rect x="1849" y="754" width="10" height="2" fill="#089981"/>
<rect x="1865" y="754" width="2" height="65" fill="#F23645"/>
<rect x="1861" y="757" width="10" height="26" fill="#F23645"/>
<rect x="1877" y="743" width="2" height="50" fill="#089981"/>
<rect x="1873" y="765" width="10" height="18" fill="#089981"/>
<rect x="1889" y="758" width="2" height="44" fill="#F23645"/>
<rect x="1885" y="765" width="10" height="13" fill="#F23645"/>
<rect x="1901" y="772" width="2" height="96" fill="#F23645"/>
<rect x="1897" y="778" width="10" height="77" fill="#F23645"/>
<rect x="1913" y="817" width="2" height="38" fill="#089981"/>
<rect x="1909" y="837" width="10" height="18" fill="#089981"/>
<rect x="1925" y="816" width="2" height="61" fill="#F23645"/>
<rect x="1921" y="837" width="10" height="26" fill="#F23645"/>
<rect x="1937" y="820" width="2" height="83" fill="#089981"/>
<rect x="1933" y="831" width="10" height="31" fill="#089981"/>
<rect x="1949" y="749" width="2" height="97" fill="#089981"/>
<rect x="1945" y="812" width="10" height="20" fill="#089981"/>
<rect x="1961" y="800" width="2" height="71" fill="#F23645"/>
<rect x="1957" y="812" width="10" height="26" fill="#F23645"/>
</g>
<line x1="20" y1="837" x2="2088" y2="837" stroke="#F23645" stroke-width="2" stroke-dasharray="2 4"/>
<g font-size="24" fill="#0F0F0F" letter-spacing="1.9">
<text x="2105.3" y="203.1">74,000</text>
<text x="2105.3" y="298.1">73,000</text>
<text x="2105.3" y="393.1">72,000</text>
<text x="2105.3" y="488.1">71,000</text>
<text x="2105.3" y="584.1">70,000</text>
<text x="2105.3" y="679.1">69,000</text>
<text x="2105.3" y="774.1">68,000</text>
<text x="2105.3" y="965.1">66,000</text>
<text x="2105.3" y="1060.1">65,000</text>
<text x="2105.3" y="1155.1">64,000</text>
<text x="2105.3" y="1250.1">63,000</text>
<text x="2105.3" y="1345.1">62,000</text>
</g>
<g font-size="24" fill="#0F0F0F" text-anchor="middle" letter-spacing="1.9">
<text x="126.3" y="1436">11</text>
<text x="270.3" y="1436">13</text>
<text x="414.3" y="1436">15</text>
<text x="558.3" y="1436">17</text>
<text x="702.3" y="1436">19</text>
<text x="846.3" y="1436">21</text>
<text x="990.3" y="1436">23</text>
<text x="1134.3" y="1436">25</text>
<text x="1278.3" y="1436">27</text>
<text x="1422" y="1436" font-weight="bold" letter-spacing="1.4">Mar</text>
<text x="1566.3" y="1436">3</text>
<text x="1710.3" y="1436">5</text>
<text x="1854.3" y="1436">7</text>
<text x="1998.3" y="1436">9</text>
</g>
<path d="M2090 820H2218a4 4 0 0 1 4 4V878a4 4 0 0 1 -4 4H2090Z" fill="#F23645"/>
<text x="2105.3" y="844" font-size="24" fill="#fff" letter-spacing="1.9">67,264</text>
<text x="2105.3" y="872" font-size="24" fill="#fff" fill-opacity="0.8" letter-spacing="1.9">02:49:19</text>
<path d="M2090 1349H2158a4 4 0 0 1 4 4V1379a4 4 0 0 1 -4 4H2090Z" fill="#EF5350"/>
<text x="2105.8" y="1374.5" font-size="24" fill="#fff" letter-spacing="1.9">214</text>
<rect x="2096.3" y="62.3" width="127.3" height="51.6" rx="8" fill="#fff" stroke="rgba(0,0,0,0.04)" stroke-width="2"/>
<text x="2114.2" y="97.2" font-size="24.6" fill="#0F0F0F" stroke="#0F0F0F" stroke-width="0.4" textLength="50" lengthAdjust="spacingAndGlyphs">USD</text>
<text x="19.5" y="44.5" font-size="24.6" fill="#0F0F0F" stroke="#0F0F0F" stroke-width="0.35" textLength="632" lengthAdjust="spacing">Created with TradingView.com, Mar 08, 2026 13:10 UTC</text>
<text x="36" y="98" font-size="24.5" fill="#0F0F0F" stroke="#0F0F0F" stroke-width="0.35" textLength="388" lengthAdjust="spacing">Bitcoin / U.S. Dollar · 4h · Bitstamp</text>
<text x="438.5" y="98" font-size="24.5" fill="#0F0F0F" stroke="#0F0F0F" stroke-width="0.35">O</text>
<text x="457.5" y="98" font-size="24.5" fill="#F23645" stroke="#F23645" stroke-width="0.35" textLength="76" lengthAdjust="spacing">67,529</text>
<text x="548" y="98" font-size="24.5" fill="#0F0F0F" stroke="#0F0F0F" stroke-width="0.35">H</text>
<text x="566" y="98" font-size="24.5" fill="#F23645" stroke="#F23645" stroke-width="0.35" textLength="77.5" lengthAdjust="spacing">67,649</text>
<text x="658" y="98" font-size="24.5" fill="#0F0F0F" stroke="#0F0F0F" stroke-width="0.35">L</text>
<text x="671" y="98" font-size="24.5" fill="#F23645" stroke="#F23645" stroke-width="0.35" textLength="81" lengthAdjust="spacing">66,906</text>
<text x="767" y="98" font-size="24.5" fill="#0F0F0F" stroke="#0F0F0F" stroke-width="0.35">C</text>
<text x="784" y="98" font-size="24.5" fill="#F23645" stroke="#F23645" stroke-width="0.35" textLength="77" lengthAdjust="spacing">67,264</text>
<text x="876" y="98" font-size="24.5" fill="#F23645" stroke="#F23645" stroke-width="0.35" textLength="170.5" lengthAdjust="spacing">−265 (−0.39%)</text>
<text x="36" y="132" font-size="24.5" fill="#0F0F0F" stroke="#0F0F0F" stroke-width="0.35" textLength="102.5" lengthAdjust="spacing">Vol · BTC</text>
<text x="153" y="132" font-size="24.5" fill="#EF5350" stroke="#EF5350" stroke-width="0.35" textLength="39" lengthAdjust="spacing">214</text>
<g>
<circle cx="1962" cy="1373" r="23.3" fill="#fff"/>
<path d="M1943.35 1365.77A20 20 0 1 1 1947.44 1386.72" fill="none" stroke="#9C27B0" stroke-width="2.3"/>
<polygon points="1967.4,1361.9 1953.9,1373.6 1961.8,1373.6 1955.1,1382.6 1956.7,1384 1970.4,1372 1963.1,1372 1968.9,1363.4" fill="#9C27B0" stroke="#9C27B0" stroke-width="0.6"/>
<path transform="translate(1941 1380)" d="M0 -10Q2 -2 10 0Q2 2 0 10Q-2 2 -10 0Q-2 -2 0 -10Z" fill="#fff" stroke="#fff" stroke-width="8" stroke-linejoin="round"/>
<path transform="translate(1941 1380)" d="M0 -10Q2 -2 10 0Q2 2 0 10Q-2 2 -10 0Q-2 -2 0 -10Z" fill="#7C4DFF" stroke="#7C4DFF" stroke-width="1" stroke-linejoin="round"/>
</g>
<g fill="#131313" stroke="#131313" stroke-width="0">
<polygon points="24,1498 47.7,1498 47.7,1528 36,1528 36,1510 24,1510"/>
<circle cx="58" cy="1504" r="6"/>
<polygon points="70.4,1498 84,1498 71.9,1528 58,1528"/>
<text x="97.3" y="1528" font-size="43" font-weight="bold" stroke-width="0.8" textLength="144.5" lengthAdjust="spacingAndGlyphs">Trading</text>
<text x="241.6" y="1528" font-size="43" font-weight="bold" stroke-width="0.8" textLength="99" lengthAdjust="spacingAndGlyphs">View</text>
</g>
</svg></body></html>
